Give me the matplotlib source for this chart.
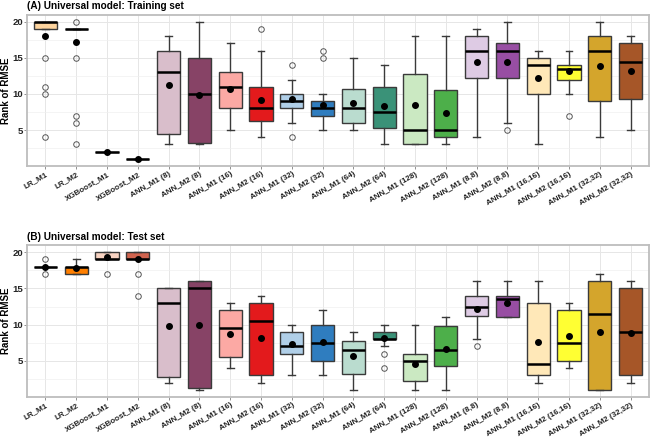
"""Rank of RMSE per model, universal model: training and test set boxplots."""

import matplotlib

matplotlib.use("Agg")
import matplotlib.pyplot as plt
from matplotlib.ticker import MultipleLocator

plt.rcParams["font.family"] = ["Liberation Sans", "DejaVu Sans"]

models = [
    "LR_M1", "LR_M2", "XGBoost_M1", "XGBoost_M2",
    "ANN_M1 (8)", "ANN_M2 (8)", "ANN_M1 (16)", "ANN_M2 (16)",
    "ANN_M1 (32)", "ANN_M2 (32)", "ANN_M1 (64)", "ANN_M2 (64)",
    "ANN_M1 (128)", "ANN_M2 (128)", "ANN_M1 (8,8)", "ANN_M2 (8,8)",
    "ANN_M1 (16,16)", "ANN_M2 (16,16)", "ANN_M1 (32,32)", "ANN_M2 (32,32)",
]
fill_colors = [
    "#FDD49E", "#FF7F00", "#F8D3C2", "#D0644F",
    "#D9BECB", "#874366", "#FCA9A4", "#E31A1C",
    "#B0CFE8", "#2F7DBF", "#BADCCF", "#3A9278",
    "#CBE9C2", "#4DAF4A", "#DECBE4", "#984EA3",
    "#FFE8B8", "#FFFF33", "#D4A52C", "#A65628",
]

# training set
train_whislo = [19, 19, 2, 1, 3, 3, 5, 4, 6, 5, 5, 3, 3, 3, 4, 6, 3, 10, 4, 5]
train_q1 = [19, 19, 2, 1, 4.5, 3.25, 8, 6.25, 8, 7, 6, 5.25, 3, 4, 12.25, 12.25, 10, 12, 9, 9.25]
train_med = [20, 19, 2, 1, 13, 10, 11, 8, 9, 8, 8, 7.5, 5, 5, 16, 16, 14, 13.5, 16, 14.5]
train_q3 = [20, 19, 2, 1, 16, 15, 13, 11, 10, 9, 10.75, 11, 12.75, 10.5, 18, 17, 15, 14, 18, 17]
train_whishi = [20, 19, 2, 1, 18, 20, 17, 16, 12, 10, 15, 14, 18, 18, 19, 20, 16, 16, 20, 18]
train_mean = [18, 17.2, 2, 1, 11.2, 9.8, 10.7, 9.2, 9.3, 8.4, 8.7, 8.3, 8.4, 7.4,
              14.4, 14.4, 12.2, 13.2, 13.9, 13.2]
train_fliers = [[15, 11, 10, 4], [20, 15, 7, 6, 3], [], [], [], [], [], [19], [14, 4], [16, 15],
                [], [], [], [], [], [5], [], [7], [], []]

# test set
test_whislo = [18, 17, 19, 19, 2, 1, 4, 2, 3, 3, 1, 7, 1, 1, 8, 11, 2, 4, 1, 2]
test_q1 = [18, 17, 19, 19, 2.75, 1.25, 5.5, 3, 6, 5, 3.25, 8, 2.25, 4.25, 11.25, 11, 3, 5, 1, 3]
test_med = [18, 18, 19, 19, 13, 15, 9.5, 10.5, 7, 7.5, 6.5, 8, 5, 6.5, 12.5, 13.5, 4.5, 7.5, 11.5, 9]
test_q3 = [18, 18, 20, 20, 15, 16, 12, 13, 9, 10, 7.75, 9, 6, 9.75, 14, 14, 13, 12, 16, 15]
test_whishi = [18, 19, 20, 20, 15, 16, 13, 14, 10, 12, 9, 10, 10, 11, 16, 16, 16, 13, 17, 16]
test_mean = [18, 17.8, 19.3, 19, 9.8, 10, 8.75, 8.2, 7.3, 7.6, 5.7, 8.1, 4.6, 6.7,
             12.2, 13, 7.55, 8.4, 9, 8.8]
test_fliers = [[19, 17], [], [17], [17, 14], [], [], [], [], [], [], [], [6, 4], [], [], [7],
               [], [], [], [], []]


def _stats(whislo, q1, med, q3, whishi, mean, fliers):
    return [
        dict(whislo=a, q1=b, med=c, q3=d, whishi=e, mean=f, fliers=g, label=name)
        for a, b, c, d, e, f, g, name in zip(whislo, q1, med, q3, whishi, mean, fliers, models)
    ]


def _panel(ax, stats, title):
    positions = list(range(1, len(stats) + 1))
    art = ax.bxp(
        stats,
        positions=positions,
        widths=0.75,
        capwidths=0.22,
        patch_artist=True,
        showmeans=True,
        boxprops=dict(edgecolor="#3a3a3a", linewidth=1.0),
        whiskerprops=dict(color="#3a3a3a", linewidth=1.0),
        capprops=dict(color="#3a3a3a", linewidth=1.0),
        medianprops=dict(color="black", linewidth=1.8),
        meanprops=dict(marker="o", markerfacecolor="black", markeredgecolor="black", markersize=4),
        flierprops=dict(marker="o", markerfacecolor="none", markeredgecolor="#555555",
                        markersize=4, markeredgewidth=0.7),
    )
    for patch, color in zip(art["boxes"], fill_colors):
        patch.set_facecolor(color)

    ax.set_xlim(0.4, len(stats) + 0.6)
    ax.set_ylim(0.05, 20.95)
    ax.yaxis.set_major_locator(MultipleLocator(5))
    ax.yaxis.set_minor_locator(MultipleLocator(2.5))
    ax.set_yticks([5, 10, 15, 20])
    ax.set_xticks(positions)
    ax.set_xticklabels(models, rotation=30, ha="right", rotation_mode="anchor",
                       fontsize=5.8, fontweight="bold", color="#222222")
    ax.tick_params(axis="y", labelsize=6.8, colors="#7f7f7f", length=2, width=0.6, pad=1)
    ax.tick_params(axis="x", colors="#7f7f7f", length=2, width=0.6, pad=1.5)
    for lbl in ax.get_yticklabels():
        lbl.set_color("#222222")
        lbl.set_fontweight("bold")
    for lbl in ax.get_xticklabels():
        lbl.set_color("#222222")
    ax.tick_params(axis="y", which="minor", length=0)

    ax.set_axisbelow(True)
    ax.grid(which="major", color="#e6e6e6", linewidth=0.7)
    ax.grid(which="minor", axis="y", color="#f0f0f0", linewidth=0.5)
    for spine in ax.spines.values():
        spine.set_edgecolor("#bdbdbd")
        spine.set_linewidth(1.3)

    ax.set_title(title, loc="left", fontsize=7.2, fontweight="bold", pad=4)
    ax.set_ylabel("Rank of RMSE", fontsize=7, fontweight="bold")
    ax.yaxis.set_label_coords(-0.025, 0.5)


fig = plt.figure(figsize=(6.5, 4.37), dpi=100)
ax_train = fig.add_axes([0.0415, 0.6208, 0.957, 0.3449])
ax_test = fig.add_axes([0.0415, 0.0922, 0.957, 0.3465])

_panel(ax_train, _stats(train_whislo, train_q1, train_med, train_q3, train_whishi,
                        train_mean, train_fliers), "(A) Universal model: Training set")
_panel(ax_test, _stats(test_whislo, test_q1, test_med, test_q3, test_whishi,
                       test_mean, test_fliers), "(B) Universal model: Test set")

fig.savefig("out.png", dpi=100)
plt.close(fig)
